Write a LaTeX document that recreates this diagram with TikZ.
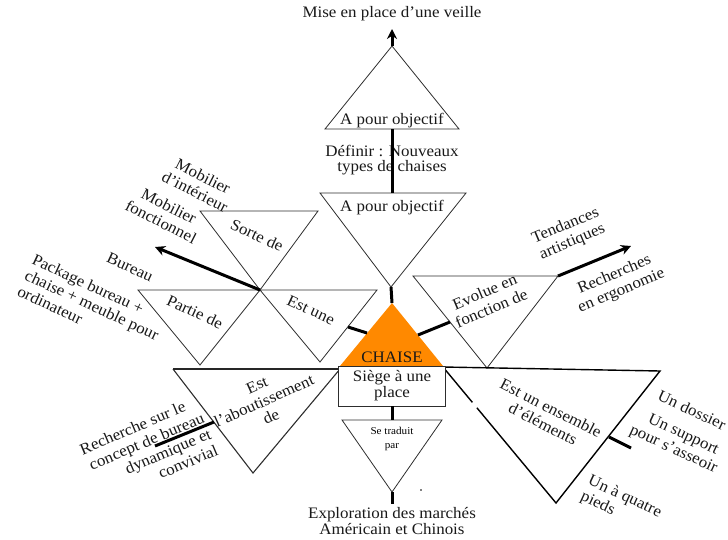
\documentclass[tikz,border=0pt]{standalone}
\usepackage{fontspec}
\setmainfont{Liberation Serif}[FakeStretch=1.06]
\usetikzlibrary{arrows.meta,calc}
\definecolor{chaiseorange}{RGB}{255,137,0}
\definecolor{edgegray}{RGB}{45,45,45}
\begin{document}
\begin{tikzpicture}[x=1pt,y=-1pt,
  tri/.style={draw=edgegray, line width=0.8pt, line join=miter},
  heavytri/.style={draw=black, line width=1.4pt, line join=miter},
  boldline/.style={draw=black, line width=3pt},
  arrowline/.style={draw=black, line width=3pt, -{Stealth[length=10pt,width=10pt]}},
  lbl/.style={font=\fontsize{16}{15.8}\selectfont, align=center, inner sep=0pt, text=black!90},
  rlbl/.style={font=\fontsize{16}{17.5}\selectfont, align=center, inner sep=0pt, text=black!90},
  smalllbl/.style={font=\fontsize{10.5}{14}\selectfont, align=center, inner sep=0pt, text=black}
]
\useasboundingbox (0,0) rectangle (728,539);

% ---------- coordinates ----------
% top upward triangle
\coordinate (T1a) at (392,46);
\coordinate (T1l) at (325,129);
\coordinate (T1r) at (459,129);
\coordinate (T1m) at (392,129);
\coordinate (Tip) at (392,29);
% down triangle "A pour objectif"
\coordinate (T2l) at (320,193);
\coordinate (T2r) at (466,193);
\coordinate (T2m) at (392,193);
\coordinate (T2b) at (391,287);
% orange triangle
\coordinate (Oa) at (392,303);
\coordinate (Ol) at (340,366);
\coordinate (Or) at (443,366);
% "Se traduit par"
\coordinate (T3l) at (342,420);
\coordinate (T3r) at (442,420);
\coordinate (T3m) at (392,420);
\coordinate (T3b) at (392,492);
\coordinate (Bot) at (392,504);
% left small triangles
\coordinate (S1) at (200,211);
\coordinate (S2) at (318,211);
\coordinate (X) at (260,290);
\coordinate (P1) at (138,290);
\coordinate (P3) at (200,365);
\coordinate (E2) at (377,290);
\coordinate (E3) at (320,362);
% big left triangle
\coordinate (L1) at (173,369);
\coordinate (L2) at (340,369);
\coordinate (L3) at (253,473);
% Evolue triangle
\coordinate (V1) at (413,276);
\coordinate (V2) at (558,276);
\coordinate (V3) at (487,368);
% big right triangle
\coordinate (R1) at (443,367);
\coordinate (R2) at (660,371);
\coordinate (R3) at (556,503);
% arrow ends and stubs
\coordinate (MobTip) at (155,247);
\coordinate (TendTip) at (631,246);
\coordinate (EstA) at (348,327);
\coordinate (EstB) at (367,333);
\coordinate (EvoA) at (418,335);
\coordinate (EvoB) at (450,322);
\coordinate (RechA) at (214,422);
\coordinate (RechB) at (155,446);
\coordinate (SupA) at (609,437);
\coordinate (SupB) at (631,448);

% ---------- triangles ----------
\draw[tri] (T1a) -- (T1l) -- (T1r) -- cycle;
\draw[tri] (T2l) -- (T2r) -- (T2b) -- cycle;
\draw[tri] (S1) -- (S2) -- (X) -- cycle;
\draw[tri] (P1) -- (X) -- (P3) -- cycle;
\draw[tri] (X) -- (E2) -- (E3) -- cycle;
\draw[tri] (V1) -- (V2) -- (V3) -- cycle;
\draw[tri] (T3l) -- (T3r) -- (T3b) -- cycle;
% big left triangle
\draw[tri, line width=1.1pt] (L2) -- (L3) -- (L1);
\draw[draw=black!85, line width=1.8pt] (L1) -- (L2);
% big right triangle (with small gap on left edge)
\draw[heavytri] ($(R1)!0.26!(R3)$) -- (R1) -- (R2) -- (R3) -- ($(R1)!0.30!(R3)$);
% orange triangle
\fill[chaiseorange] (Oa) -- (Ol) -- (Or) -- cycle;

% ---------- texts ----------
\node[lbl] (veille) at (392,14) {Mise en place d’une veille};
\node[lbl] (obj1) at (392,121) {A pour objectif};
\node[lbl] (definir) at (392,160) {Définir : Nouveaux\\types de chaises};
\node[lbl] (obj2) at (392,208) {A pour objectif};
\node[lbl] (chaiselbl) at (392,357) {CHAISE};
\node[lbl, draw=edgegray, line width=0.9pt, fill=white, minimum width=107pt, minimum height=40pt] (siege) at (392,386) {Siège à une\\place};
\node[smalllbl] (traduit) at (392,439) {Se traduit\\par};
\node[lbl] (explo) at (392,521) {Exploration des marchés\\Américain et Chinois};

\node[rlbl, rotate=-25] (sorte) at (257,235) {Sorte de};
\node[rlbl, rotate=-25] (partie) at (195,312) {Partie de};
\node[rlbl, rotate=-25] (estune) at (311,310) {Est une};
\node[rlbl, rotate=-27] (mob1) at (199,184) {Mobilier\\d'intérieur};
\node[rlbl, rotate=-27] (mob2) at (165,214) {Mobilier\\fonctionnel};
\node[rlbl, rotate=-25] (bureau) at (130,267) {Bureau};
\node[rlbl, rotate=-25, align=left] (package) at (92,305) {Package bureau +\\chaise + meuble pour\\ordinateur};
\node[rlbl, rotate=24] (abou) at (264,401) {Est\\l’aboutissement\\de};
\node[rlbl, rotate=23, align=right, anchor=east] (recherche) at (207,425) {Recherche sur le\hspace*{13pt}\\concept de bureau\hspace*{8pt}\\dynamique et\hspace*{3pt}\\convivial};

\node[rlbl, rotate=23] (evolue) at (488,300) {Evolue en\\fonction de};
\node[rlbl, rotate=23] (tend) at (569,234) {Tendances\\artistiques};
\node[rlbl, rotate=23] (ergo) at (618,283) {Recherches\\en ergonomie};
\node[rlbl, rotate=-27] (ensemble) at (547,416) {Est un ensemble\\d’éléments};
\node[rlbl, rotate=-25] (dossier) at (692,410) {Un dossier};
\node[rlbl, rotate=-25, align=left] (support) at (677,442) {\hspace*{12pt}Un support\\pour s’asseoir};
\node[rlbl, rotate=-25, align=left] (pieds) at (621,505) {Un à quatre\\pieds};

% ---------- thick connectors ----------
\draw[boldline] (T2m) -- (T1m);
\draw[arrowline] (T1a) -- (Tip);
\draw[boldline] (T2b) -- (Oa);
\draw[boldline] (siege.south) -- (T3m);
\draw[boldline] (T3b) -- (Bot);
\draw[arrowline] (X) -- (MobTip);
\draw[arrowline] (V2) -- (TendTip);
\draw[boldline] (EstA) -- (EstB);
\draw[boldline] (EvoA) -- (EvoB);
\draw[boldline] (RechA) -- (RechB);
\draw[boldline] (SupA) -- (SupB);

% small dot
\fill[black] (421,490) circle (0.8pt);
\end{tikzpicture}
\end{document}
